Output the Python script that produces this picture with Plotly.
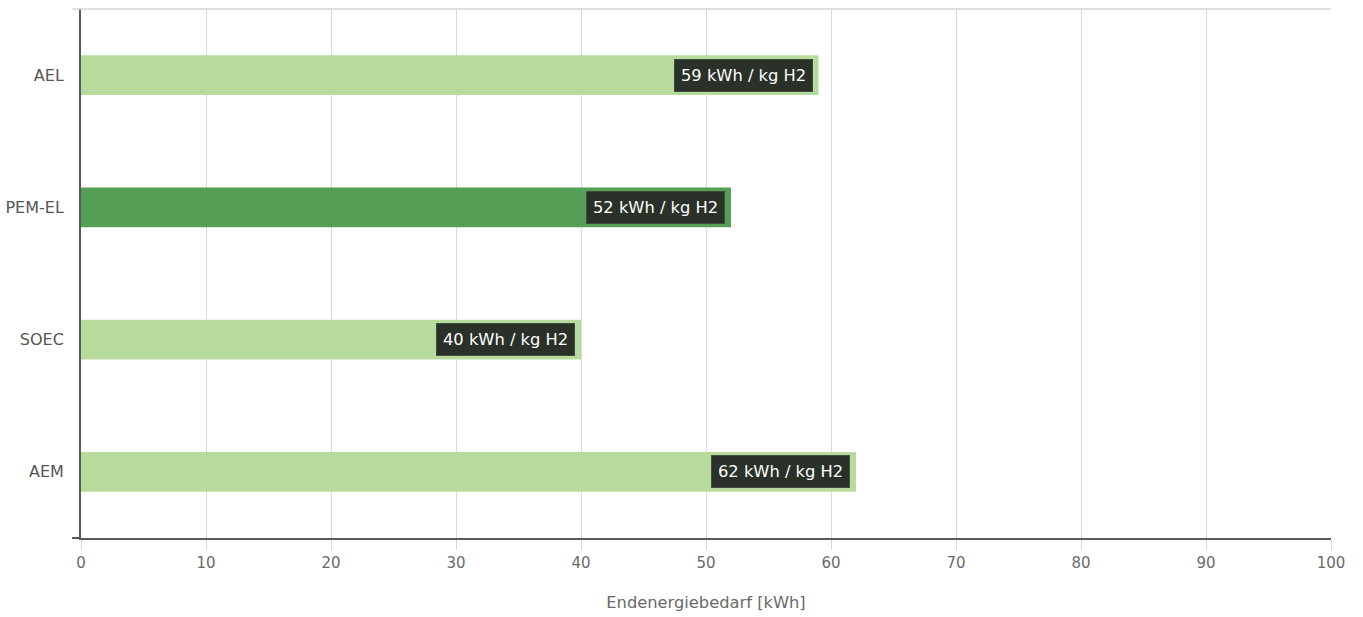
import plotly.graph_objects as go

# Electrolysis technologies and their final energy demand per kg of hydrogen
technologies = ["AEL", "PEM-EL", "SOEC", "AEM"]
energy_kwh = [59, 52, 40, 62]
value_labels = ["59 kWh / kg H2", "52 kWh / kg H2", "40 kWh / kg H2", "62 kWh / kg H2"]
highlighted = "PEM-EL"

x_ticks = [0, 10, 20, 30, 40, 50, 60, 70, 80, 90, 100]

LIGHT_GREEN = "#b7db9d"
DARK_GREEN = "#55a056"
FONT = "DejaVu Sans"

bar_colors = [DARK_GREEN if t == highlighted else LIGHT_GREEN for t in technologies]

fig = go.Figure()
fig.add_trace(
    go.Bar(
        x=energy_kwh,
        y=technologies,
        orientation="h",
        marker=dict(color=bar_colors, line=dict(width=0)),
        hoverinfo="skip",
    )
)

# Dark value badges sitting at the right end of each bar
for tech, val, lab in zip(technologies, energy_kwh, value_labels):
    fig.add_annotation(
        x=val,
        y=tech,
        xref="x",
        yref="y",
        text=lab,
        showarrow=False,
        xanchor="right",
        xshift=-6,
        font=dict(family=FONT, size=16.3, color="#ffffff"),
        bgcolor="#2a3128",
        bordercolor="#414c3c",
        borderwidth=1,
        borderpad=6,
    )

# Top frame line and leftward extension of the base axis
fig.add_shape(type="line", xref="paper", yref="paper", x0=-0.0072, x1=1, y0=1, y1=1,
              line=dict(color="#d6d6d6", width=1.5))
fig.add_shape(type="line", xref="paper", yref="paper", x0=-0.0072, x1=0, y0=0, y1=0,
              line=dict(color="#5a5a5a", width=2))

fig.update_layout(
    width=1363,
    height=617,
    margin=dict(l=81, r=32, t=9, b=79),
    paper_bgcolor="white",
    plot_bgcolor="white",
    bargap=0.7,
    showlegend=False,
    font=dict(family=FONT, color="#666666", size=14),
)

fig.update_xaxes(
    range=[0, 100],
    tickvals=x_ticks,
    ticktext=[str(v) for v in x_ticks],
    showgrid=True,
    gridcolor="#d9d9d9",
    gridwidth=1,
    zeroline=False,
    showline=True,
    linecolor="#5a5a5a",
    linewidth=2,
    ticks="outside",
    ticklen=10,
    tickcolor="#d9d9d9",
    tickwidth=1,
    tickfont=dict(family=FONT, size=15, color="#6a6a6a"),
    title=dict(text="Endenergiebedarf [kWh]", font=dict(family=FONT, size=16.3, color="#6a6a6a"),
               standoff=26),
    automargin=False,
    fixedrange=True,
)

fig.update_yaxes(
    categoryorder="array",
    categoryarray=technologies,
    autorange="reversed",
    showgrid=False,
    zeroline=False,
    showline=True,
    linecolor="#5a5a5a",
    linewidth=2,
    ticks="",
    ticklabelstandoff=12,
    tickfont=dict(family=FONT, size=16, color="#555555"),
    automargin=False,
    fixedrange=True,
)

fig.write_html("out.html", config={"displayModeBar": False})
